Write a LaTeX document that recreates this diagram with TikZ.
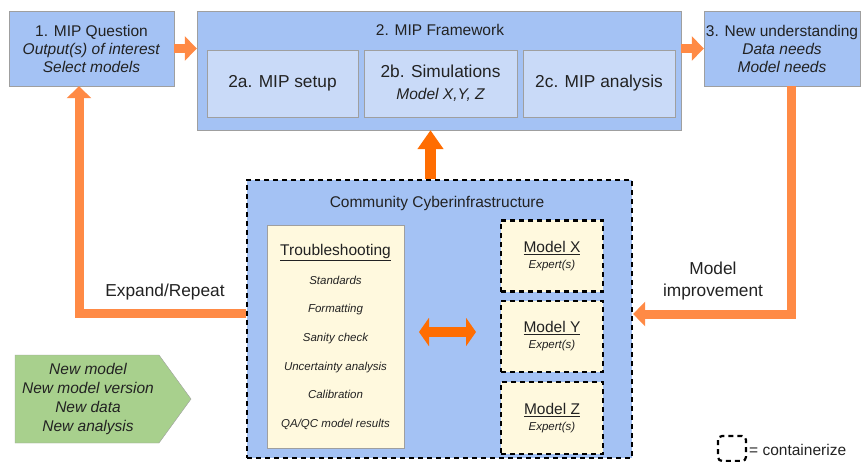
\documentclass[tikz,border=0pt]{standalone}
\usepackage{fontspec}
\setmainfont{Liberation Sans}
\usetikzlibrary{arrows.meta}
\definecolor{boxblue}{HTML}{A4C2F4}
\definecolor{paleblue}{HTML}{C9DAF8}
\definecolor{cream}{HTML}{FFF9DE}
\definecolor{leafgreen}{HTML}{A8D08D}
\definecolor{linkorange}{HTML}{FF8A45}
\definecolor{darkorange}{HTML}{FF6D01}
\definecolor{inkgray}{HTML}{222222}
\begin{document}
\begin{tikzpicture}[x=1pt,y=-1pt,
    bluebox/.style={draw=gray!75,fill=boxblue,text=inkgray,align=center,inner sep=0pt},
    subbox/.style={bluebox,fill=paleblue,minimum height=67pt},
    cont/.style={draw=black,line width=2.2pt,dash pattern=on 5pt off 4pt},
    modelbox/.style={cont,fill=cream,text=inkgray,align=center,inner sep=0pt,
      minimum width=102pt,minimum height=71pt,font=\fontsize{15.5}{16}\selectfont},
    norm/.style={font=\fontsize{15.5}{18}\selectfont,text=inkgray},
    big/.style={font=\fontsize{17.3}{22}\selectfont,text=inkgray},
    small/.style={font=\fontsize{11.5}{14}\selectfont\itshape},
    link/.style={draw=linkorange,line width=9pt,-{Triangle[width=24pt,length=12pt]}},
    uplink/.style={draw=darkorange,line width=11pt,-{Triangle[width=25pt,length=19pt]}},
    twoway/.style={draw=darkorange,line width=10pt,
      {Triangle[width=28pt,length=10pt]}-{Triangle[width=28pt,length=10pt]}}]
  \useasboundingbox (0,0) rectangle (864,462);

  % top row
  \node[bluebox,norm,minimum width=165pt,minimum height=75pt] (q) at (91.5,48.5)
    {1. MIP Question\\\textit{Output(s) of interest}\\\textit{Select models}};
  \node[bluebox,minimum width=484pt,minimum height=119pt] (fw) at (439,70.5) {};
  \node[norm] (fwt) at (440,30) {2. MIP Framework};
  \node[subbox,big,minimum width=151pt] (setup) at (282.5,83.5) {2a. MIP setup};
  \node[subbox,big,minimum width=153pt] (sim) at (440.5,83.5)
    {2b. Simulations\\{\fontsize{15.5}{18}\selectfont\itshape Model X,Y, Z}};
  \node[subbox,big,minimum width=152pt] (ana) at (599,83.5) {2c. MIP analysis};
  \node[bluebox,norm,minimum width=156pt,minimum height=75pt] (nu) at (782,48.5)
    {3. New understanding\\\textit{Data needs}\\\textit{Model needs}};

  % community box
  \node[cont,fill=boxblue,minimum width=385pt,minimum height=278pt] (ci) at (439.5,319) {};
  \node[norm] (cit) at (437,203) {Community Cyberinfrastructure};
  \node[draw=gray!75,fill=cream,text=inkgray,align=center,inner sep=0pt,
    minimum width=137pt,minimum height=223pt,font=\fontsize{11.5}{28.7}\selectfont\itshape]
    (ts) at (335.5,337)
    {{\upshape\fontsize{15.5}{28.7}\selectfont\underline{Troubleshooting}}\\Standards\\Formatting\\
     Sanity check\\Uncertainty analysis\\Calibration\\QA/QC model results};
  \node[modelbox] (mx) at (552,256) {\underline{Model X}\\{\small\fontsize{11.5}{14}\selectfont\itshape Expert(s)}};
  \node[modelbox] (my) at (552,336.5) {\underline{Model Y}\\{\fontsize{11.5}{14}\selectfont\itshape Expert(s)}};
  \node[modelbox,minimum height=72pt] (mz) at (552,418) {\underline{Model Z}\\{\fontsize{11.5}{14}\selectfont\itshape Expert(s)}};
  \coordinate (dl) at (419,332);
  \coordinate (dr) at (476,332);
  \draw[twoway] (dl) -- (dr);

  % connectors
  \draw[link] (q.east) -- (fw.west |- q.east);
  \draw[link] (fw.east |- nu.west) -- (nu.west);
  \draw[uplink] ([xshift=-9pt]ci.north) -- ([xshift=-9pt]ci.north |- fw.south);
  \draw[link] ([yshift=6pt]ci.west) -| ([xshift=-12.5pt]q.south);
  \draw[link] ([xshift=9pt]nu.south) |- ([yshift=5pt]ci.east);
  \node[big] (rep) at (165,292) {Expand/Repeat};
  \node[big,align=center] (imp) at (713,281) {Model\\improvement};

  % new inputs
  \draw[draw=gray!75,fill=leafgreen] (15,355) -- (159,355) -- (191,399) -- (159,443) -- (15,443) -- cycle;
  \node[norm,align=center,font=\fontsize{15.5}{18.7}\selectfont\itshape] (new) at (88,399)
    {New model\\New model version\\New data\\New analysis};

  % legend
  \draw[cont,rounded corners=4pt] (718,436) rectangle (746,461);
  \node[norm,anchor=west,inner sep=0pt] (key) at (749,450) {= containerize};
\end{tikzpicture}
\end{document}
